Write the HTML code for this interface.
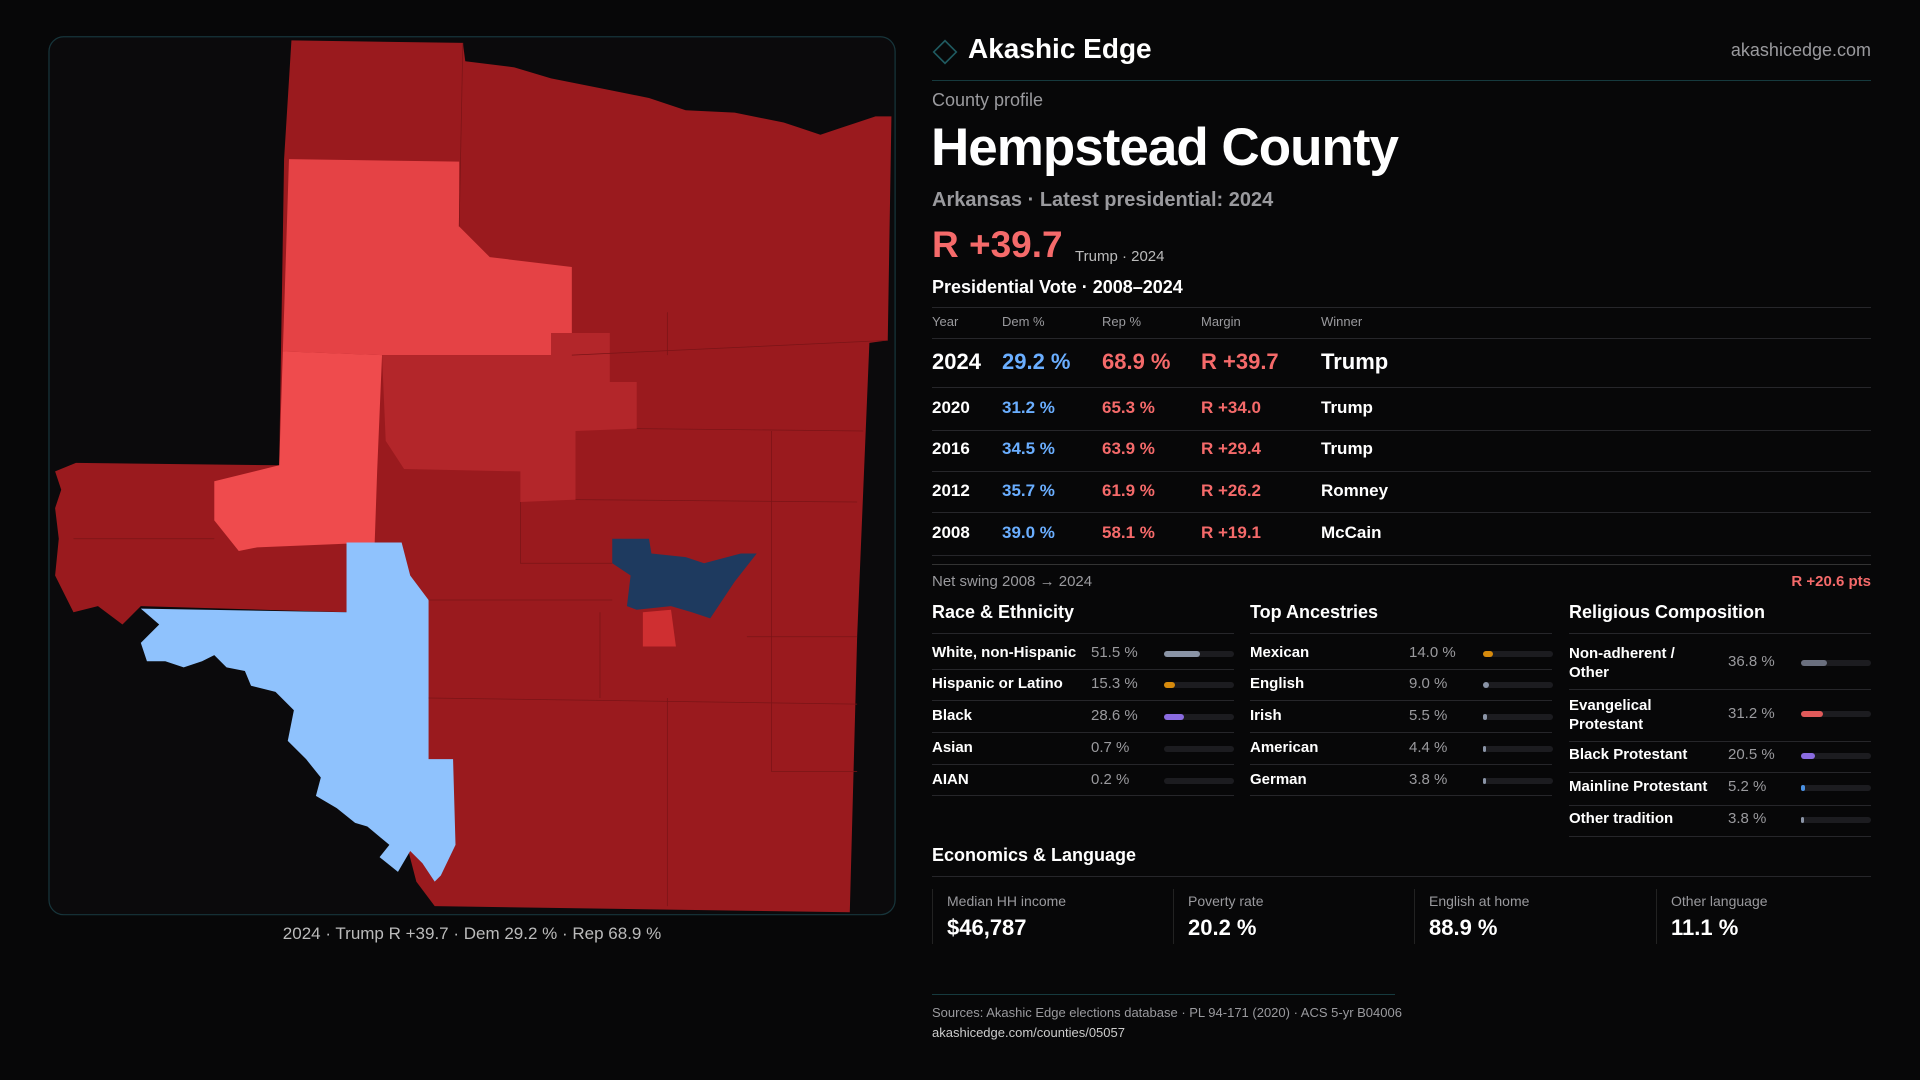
<!DOCTYPE html>
<html><head><meta charset="utf-8">
<style>
*{margin:0;padding:0;box-sizing:border-box}
body{width:1920px;height:1080px;background:#070708;font-family:"Liberation Sans",sans-serif;color:#fff;position:relative;overflow:hidden}
.a{position:absolute;white-space:nowrap}
.g{color:#9a9a9e}
.ln{position:absolute;height:1px;background:#26262a}
.r{color:#f56a6a}.b{color:#6aaeff}
.bar{position:absolute;height:6px;width:70px;border-radius:3px;background:#1c1c20}
.bar i{position:absolute;left:0;top:0;height:6px;border-radius:3px}
</style></head><body>
<svg class="a" style="left:0;top:0" width="1920" height="1080" viewBox="0 0 1568 882">
<rect x="40" y="30" width="691" height="717" rx="12" fill="#0b0a0c" stroke="#17353b" stroke-width="1"/>
<polygon fill="#9a1a1e" points="238,33 378,35 380,50 420,55 450,64 490,72 530,80 560,90 600,92 640,100 670,110 700,100 715,95 728,95 725,278 710,280 705,400 700,520 694,745 355,740 340,720 283,500 115,495 100,510 80,495 60,500 45,470 48,440 45,415 50,400 45,385 62,378 228,380 232,130"/>
<polygon fill="#e54245" points="236,130 375,132 375,185 400,210 467,218 467,290 312,290 231,287"/>
<polygon fill="#ef4b4d" points="231,287 312,290 308,385 306,443 210,447 195,450 175,425 175,393 228,380"/>
<polygon fill="#b3262a" points="312,290 450,290 450,272 498,272 498,312 520,312 520,350 470,352 470,408 425,410 425,385 330,383 315,360"/>
<polygon fill="#8fc2fd" points="283,443 328,443 335,470 350,490 350,620 370,620 372,690 360,715 355,720 345,705 335,695 325,712 310,700 318,690 300,675 290,672 275,660 258,650 262,635 250,620 235,605 240,580 225,565 205,560 200,548 185,545 175,535 165,540 150,545 135,540 120,540 115,525 130,510 115,497 283,500"/>
<polygon fill="#1e3a5f" points="500,440 530,440 532,452 560,455 575,460 605,452 618,452 600,475 590,490 580,505 565,500 548,495 520,498 512,495 515,470 500,460"/>
<polygon fill="#cf2f31" points="525,500 548,498 552,528 525,528"/>
<g stroke="#7a1417" stroke-width="0.6" fill="none">
<path d="M378,35 L375,185"/><path d="M467,290 L725,278"/><path d="M545,255 L545,290"/><path d="M520,350 L705,352"/><path d="M470,408 L700,410"/><path d="M425,410 L425,460 L500,460"/><path d="M350,490 L500,490"/><path d="M490,500 L490,570"/><path d="M545,570 L545,740"/><path d="M350,570 L700,575"/><path d="M610,520 L700,520"/><path d="M630,352 L630,630 L700,630"/><path d="M60,440 L175,440"/></g>
</svg>
<div class="a" style="left:472px;top:924px;transform:translateX(-50%);font-size:17px;color:#bbb">2024 · Trump R +39.7 · Dem 29.2 % · Rep 68.9 %</div>

<div class="a" style="left:934px;top:41px;width:22px;height:22px;border:2px solid #1f5a60;transform:rotate(45deg) scale(.8)"></div>
<div class="a" style="left:968px;top:33px;font-size:28px;font-weight:bold">Akashic Edge</div>
<div class="a g" style="right:49px;top:40px;font-size:18px">akashicedge.com</div>
<div class="ln" style="left:932px;width:939px;top:80px;background:#163a3e"></div>
<div class="a g" style="left:932px;top:90px;font-size:18px">County profile</div>
<div class="a" style="left:931px;top:117px;font-size:53px;font-weight:bold;letter-spacing:-1px">Hempstead County</div>
<div class="a g" style="left:932px;top:189px;font-size:20px;font-weight:bold">Arkansas · Latest presidential: 2024</div>
<div class="a r" style="left:932px;top:224px;font-size:37px;font-weight:bold">R +39.7</div>
<div class="a" style="left:1075px;top:248px;font-size:15px;color:#bbb">Trump · 2024</div>
<div class="a" style="left:932px;top:277px;font-size:18px;font-weight:bold">Presidential Vote · 2008–2024</div>
<div class="ln" style="left:932px;width:939px;top:307px"></div>
<div class="a g" style="left:932px;top:314px;font-size:13px">Year</div>
<div class="a g" style="left:1002px;top:314px;font-size:13px">Dem %</div>
<div class="a g" style="left:1102px;top:314px;font-size:13px">Rep %</div>
<div class="a g" style="left:1201px;top:314px;font-size:13px">Margin</div>
<div class="a g" style="left:1321px;top:314px;font-size:13px">Winner</div>
<div class="ln" style="left:932px;width:939px;top:338px"></div>
<div class="a" style="left:932px;top:349px;font-size:22px;font-weight:bold">2024</div><div class="a b" style="left:1002px;top:349px;font-size:22px;font-weight:bold">29.2 %</div><div class="a r" style="left:1102px;top:349px;font-size:22px;font-weight:bold">68.9 %</div><div class="a r" style="left:1201px;top:349px;font-size:22px;font-weight:bold">R +39.7</div><div class="a" style="left:1321px;top:349px;font-size:22px;font-weight:bold">Trump</div>
<div class="ln" style="left:932px;width:939px;top:387px"></div>
<div class="a" style="left:932px;top:398px;font-size:17px;font-weight:bold">2020</div><div class="a b" style="left:1002px;top:398px;font-size:17px;font-weight:bold">31.2 %</div><div class="a r" style="left:1102px;top:398px;font-size:17px;font-weight:bold">65.3 %</div><div class="a r" style="left:1201px;top:398px;font-size:17px;font-weight:bold">R +34.0</div><div class="a" style="left:1321px;top:398px;font-size:17px;font-weight:bold">Trump</div>
<div class="ln" style="left:932px;width:939px;top:430px"></div>
<div class="a" style="left:932px;top:439px;font-size:17px;font-weight:bold">2016</div><div class="a b" style="left:1002px;top:439px;font-size:17px;font-weight:bold">34.5 %</div><div class="a r" style="left:1102px;top:439px;font-size:17px;font-weight:bold">63.9 %</div><div class="a r" style="left:1201px;top:439px;font-size:17px;font-weight:bold">R +29.4</div><div class="a" style="left:1321px;top:439px;font-size:17px;font-weight:bold">Trump</div>
<div class="ln" style="left:932px;width:939px;top:471px"></div>
<div class="a" style="left:932px;top:481px;font-size:17px;font-weight:bold">2012</div><div class="a b" style="left:1002px;top:481px;font-size:17px;font-weight:bold">35.7 %</div><div class="a r" style="left:1102px;top:481px;font-size:17px;font-weight:bold">61.9 %</div><div class="a r" style="left:1201px;top:481px;font-size:17px;font-weight:bold">R +26.2</div><div class="a" style="left:1321px;top:481px;font-size:17px;font-weight:bold">Romney</div>
<div class="ln" style="left:932px;width:939px;top:512px"></div>
<div class="a" style="left:932px;top:523px;font-size:17px;font-weight:bold">2008</div><div class="a b" style="left:1002px;top:523px;font-size:17px;font-weight:bold">39.0 %</div><div class="a r" style="left:1102px;top:523px;font-size:17px;font-weight:bold">58.1 %</div><div class="a r" style="left:1201px;top:523px;font-size:17px;font-weight:bold">R +19.1</div><div class="a" style="left:1321px;top:523px;font-size:17px;font-weight:bold">McCain</div>
<div class="ln" style="left:932px;width:939px;top:555px"></div>
<div class="ln" style="left:932px;width:939px;top:564px;background:#333"></div>
<div class="a g" style="left:932px;top:573px;font-size:15px">Net swing 2008 → 2024</div>
<div class="a r" style="right:49px;top:573px;font-size:15px;font-weight:bold">R +20.6 pts</div>

<div class="a" style="left:932px;top:602px;font-size:18px;font-weight:bold">Race &amp; Ethnicity</div>
<div class="a" style="left:1250px;top:602px;font-size:18px;font-weight:bold">Top Ancestries</div>
<div class="a" style="left:1569px;top:602px;font-size:18px;font-weight:bold">Religious Composition</div>
<div class="ln" style="left:932px;width:302px;top:633px"></div>
<div class="ln" style="left:1250px;width:302px;top:633px"></div>
<div class="ln" style="left:1569px;width:302px;top:633px"></div>

<div class="a" style="left:932px;top:644px;font-size:15px;font-weight:bold">White, non-Hispanic</div><div class="a g" style="left:1091px;top:644px;font-size:15px">51.5 %</div><div class="bar" style="left:1164px;top:651px"><i style="width:36px;background:#8a94a6"></i></div>
<div class="ln" style="left:932px;width:302px;top:669px"></div>
<div class="a" style="left:932px;top:675px;font-size:15px;font-weight:bold">Hispanic or Latino</div><div class="a g" style="left:1091px;top:675px;font-size:15px">15.3 %</div><div class="bar" style="left:1164px;top:682px"><i style="width:11px;background:#d68a0c"></i></div>
<div class="ln" style="left:932px;width:302px;top:700px"></div>
<div class="a" style="left:932px;top:707px;font-size:15px;font-weight:bold">Black</div><div class="a g" style="left:1091px;top:707px;font-size:15px">28.6 %</div><div class="bar" style="left:1164px;top:714px"><i style="width:20px;background:#8a6be0"></i></div>
<div class="ln" style="left:932px;width:302px;top:732px"></div>
<div class="a" style="left:932px;top:739px;font-size:15px;font-weight:bold">Asian</div><div class="a g" style="left:1091px;top:739px;font-size:15px">0.7 %</div><div class="bar" style="left:1164px;top:746px"></div>
<div class="ln" style="left:932px;width:302px;top:764px"></div>
<div class="a" style="left:932px;top:771px;font-size:15px;font-weight:bold">AIAN</div><div class="a g" style="left:1091px;top:771px;font-size:15px">0.2 %</div><div class="bar" style="left:1164px;top:778px"></div>
<div class="ln" style="left:932px;width:302px;top:795px"></div>

<div class="a" style="left:1250px;top:644px;font-size:15px;font-weight:bold">Mexican</div><div class="a g" style="left:1409px;top:644px;font-size:15px">14.0 %</div><div class="bar" style="left:1483px;top:651px"><i style="width:10px;background:#d68a0c"></i></div>
<div class="ln" style="left:1250px;width:302px;top:669px"></div>
<div class="a" style="left:1250px;top:675px;font-size:15px;font-weight:bold">English</div><div class="a g" style="left:1409px;top:675px;font-size:15px">9.0 %</div><div class="bar" style="left:1483px;top:682px"><i style="width:6px;background:#8a94a6"></i></div>
<div class="ln" style="left:1250px;width:302px;top:700px"></div>
<div class="a" style="left:1250px;top:707px;font-size:15px;font-weight:bold">Irish</div><div class="a g" style="left:1409px;top:707px;font-size:15px">5.5 %</div><div class="bar" style="left:1483px;top:714px"><i style="width:4px;background:#8a94a6"></i></div>
<div class="ln" style="left:1250px;width:302px;top:732px"></div>
<div class="a" style="left:1250px;top:739px;font-size:15px;font-weight:bold">American</div><div class="a g" style="left:1409px;top:739px;font-size:15px">4.4 %</div><div class="bar" style="left:1483px;top:746px"><i style="width:3px;background:#8a94a6"></i></div>
<div class="ln" style="left:1250px;width:302px;top:764px"></div>
<div class="a" style="left:1250px;top:771px;font-size:15px;font-weight:bold">German</div><div class="a g" style="left:1409px;top:771px;font-size:15px">3.8 %</div><div class="bar" style="left:1483px;top:778px"><i style="width:3px;background:#8a94a6"></i></div>
<div class="ln" style="left:1250px;width:302px;top:795px"></div>

<div class="a" style="left:1569px;top:644px;font-size:15px;font-weight:bold;line-height:19px">Non-adherent /<br>Other</div><div class="a g" style="left:1728px;top:653px;font-size:15px">36.8 %</div><div class="bar" style="left:1801px;top:660px"><i style="width:26px;background:#6a6f7e"></i></div>
<div class="ln" style="left:1569px;width:302px;top:689px"></div>
<div class="a" style="left:1569px;top:696px;font-size:15px;font-weight:bold;line-height:19px">Evangelical<br>Protestant</div><div class="a g" style="left:1728px;top:705px;font-size:15px">31.2 %</div><div class="bar" style="left:1801px;top:711px"><i style="width:22px;background:#e05a5a"></i></div>
<div class="ln" style="left:1569px;width:302px;top:741px"></div>
<div class="a" style="left:1569px;top:746px;font-size:15px;font-weight:bold">Black Protestant</div><div class="a g" style="left:1728px;top:746px;font-size:15px">20.5 %</div><div class="bar" style="left:1801px;top:753px"><i style="width:14px;background:#8a6be0"></i></div>
<div class="ln" style="left:1569px;width:302px;top:772px"></div>
<div class="a" style="left:1569px;top:778px;font-size:15px;font-weight:bold">Mainline Protestant</div><div class="a g" style="left:1728px;top:778px;font-size:15px">5.2 %</div><div class="bar" style="left:1801px;top:785px"><i style="width:4px;background:#4a90e2"></i></div>
<div class="ln" style="left:1569px;width:302px;top:805px"></div>
<div class="a" style="left:1569px;top:810px;font-size:15px;font-weight:bold">Other tradition</div><div class="a g" style="left:1728px;top:810px;font-size:15px">3.8 %</div><div class="bar" style="left:1801px;top:817px"><i style="width:3px;background:#8a94a6"></i></div>
<div class="ln" style="left:1569px;width:302px;top:836px"></div>

<div class="a" style="left:932px;top:845px;font-size:18px;font-weight:bold">Economics &amp; Language</div>
<div class="ln" style="left:932px;width:939px;top:876px"></div>
<div class="a" style="left:932px;top:889px;width:1px;height:55px;background:#222"></div>
<div class="a" style="left:1173px;top:889px;width:1px;height:55px;background:#222"></div>
<div class="a" style="left:1414px;top:889px;width:1px;height:55px;background:#222"></div>
<div class="a" style="left:1656px;top:889px;width:1px;height:55px;background:#222"></div>
<div class="a g" style="left:947px;top:893px;font-size:14px">Median HH income</div><div class="a" style="left:947px;top:915px;font-size:22px;font-weight:bold">$46,787</div>
<div class="a g" style="left:1188px;top:893px;font-size:14px">Poverty rate</div><div class="a" style="left:1188px;top:915px;font-size:22px;font-weight:bold">20.2 %</div>
<div class="a g" style="left:1429px;top:893px;font-size:14px">English at home</div><div class="a" style="left:1429px;top:915px;font-size:22px;font-weight:bold">88.9 %</div>
<div class="a g" style="left:1671px;top:893px;font-size:14px">Other language</div><div class="a" style="left:1671px;top:915px;font-size:22px;font-weight:bold">11.1 %</div>

<div class="ln" style="left:932px;width:463px;top:994px;background:#163a3e"></div>
<div class="a g" style="left:932px;top:1005px;font-size:13px">Sources: Akashic Edge elections database · PL 94-171 (2020) · ACS 5-yr B04006</div>
<div class="a" style="left:932px;top:1025px;font-size:13px;color:#ccc">akashicedge.com/counties/05057</div>
</body></html>
